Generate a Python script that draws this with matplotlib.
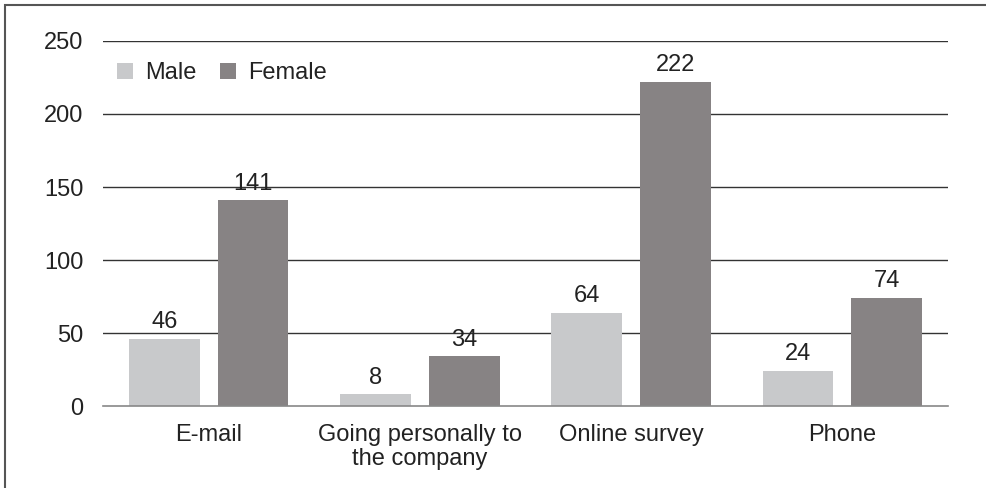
import matplotlib
matplotlib.use("Agg")
import matplotlib.pyplot as plt
from matplotlib.patches import Rectangle
import numpy as np

plt.rcParams['font.family'] = ['Liberation Sans', 'DejaVu Sans']

categories = ["E-mail", "Going personally to\nthe company", "Online survey", "Phone"]
male = [46, 8, 64, 24]
female = [141, 34, 222, 74]
yticks = [0, 50, 100, 150, 200, 250]

male_color = '#c8c9cb'
female_color = '#878384'
text_color = '#222222'
fs = 17

fig = plt.figure(figsize=(9.86, 4.88), dpi=100)
ax = fig.add_axes([0.1045, 0.168, 0.857, 0.748])

x = np.arange(len(categories))
w = 0.335
b1 = ax.bar(x - 0.21, male, w, color=male_color, label='Male', zorder=3)
b2 = ax.bar(x + 0.21, female, w, color=female_color, label='Female', zorder=3)

for bars, vals in ((b1, male), (b2, female)):
    for r, v in zip(bars, vals):
        ax.annotate(str(v), (r.get_x() + r.get_width() / 2, v),
                    xytext=(0, 4), textcoords='offset points',
                    ha='center', va='bottom', fontsize=fs, color=text_color)

ax.set_xlim(-0.5, len(categories) - 0.5)
ax.set_ylim(0, 250)
ax.set_yticks(yticks)
ax.set_yticklabels([str(t) for t in yticks], fontsize=fs, color=text_color)
ax.set_xticks(x)
ax.set_xticklabels(categories, fontsize=fs, color=text_color, linespacing=1.12)
ax.tick_params(axis='both', length=0)
ax.tick_params(axis='y', pad=14)
ax.tick_params(axis='x', pad=13)

for t in yticks[1:]:
    ax.axhline(t, color='#333333', linewidth=1.0, zorder=1)
for s in ['top', 'right', 'left']:
    ax.spines[s].set_visible(False)
ax.spines['bottom'].set_color('#888888')
ax.spines['bottom'].set_linewidth(1.2)
ax.spines['bottom'].set_zorder(4)

leg = ax.legend(loc='upper left', bbox_to_anchor=(0.0, 0.98), ncol=2, frameon=False,
                fontsize=fs, handlelength=0.68, handleheight=0.68,
                handletextpad=0.5, columnspacing=1.0, borderaxespad=0.2)
for t in leg.get_texts():
    t.set_color(text_color)

# outer frame (only top and left visible in the crop)
fig.patches.append(Rectangle((5 / 986, -0.1), 1.2, (483 / 488) + 0.1,
                             transform=fig.transFigure, fill=False,
                             edgecolor='#555555', linewidth=1.5))

fig.savefig('out.png', dpi=100)
